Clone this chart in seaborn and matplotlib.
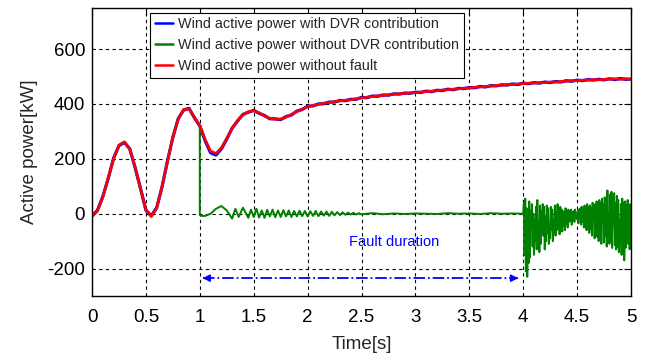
import numpy as np
import pandas as pd
import matplotlib
matplotlib.use("Agg")
import matplotlib.pyplot as plt
import seaborn as sns

# ---------------- data ----------------
t_main = np.round(np.arange(0, 5.0001, 0.05), 2)
red_vals = [-10, 10, 60, 130, 200, 250, 262, 235, 170, 90,
            15, -10, 20, 100, 190, 280, 345, 380, 382, 352,
            322, 270, 228, 220, 240, 275, 310, 340, 360, 372,
            375, 368, 356, 348, 344, 345, 352, 362, 372, 382,
            390, 395, 398, 403, 405, 409, 411, 414, 415, 419,
            422, 425, 427, 430, 431, 434, 435, 438, 438, 441,
            441, 444, 445, 447, 448, 451, 452, 454, 455, 458,
            458, 461, 462, 464, 465, 468, 468, 471, 471, 473,
            474, 476, 476, 478, 478, 480, 480, 482, 483, 485,
            485, 487, 487, 489, 488, 490, 490, 492, 490, 492, 490]
blue_vals = [-8, 12, 62, 128, 202, 248, 260, 237, 168, 92,
             13, -8, 22, 98, 192, 278, 347, 378, 384, 350,
             320, 266, 222, 214, 236, 272, 312, 338, 362, 370,
             377, 366, 358, 346, 346, 343, 354, 360, 374, 380,
             392, 393, 400, 401, 407, 407, 413, 412, 417, 417,
             424, 423, 429, 428, 433, 432, 437, 436, 440, 439,
             443, 442, 447, 445, 450, 449, 454, 452, 457, 456,
             460, 459, 464, 462, 467, 466, 470, 469, 473, 471,
             476, 474, 478, 476, 480, 478, 482, 480, 485, 483,
             487, 485, 489, 487, 490, 488, 492, 489, 493, 490, 491]

green_t_fault = [1.0, 1.0, 1.02, 1.05, 1.10, 1.15, 1.20, 1.25, 1.30, 1.33, 1.36, 1.40, 1.43,
                 1.45, 1.475, 1.50, 1.525, 1.55, 1.575, 1.60, 1.625, 1.65, 1.675,
                 1.70, 1.725, 1.75, 1.775, 1.80, 1.825, 1.85, 1.875, 1.90, 1.925,
                 1.95, 1.975, 2.00, 2.025, 2.05, 2.075, 2.10, 2.125, 2.15, 2.175,
                 2.20, 2.225, 2.25, 2.275, 2.30, 2.325, 2.35, 2.375, 2.40, 2.425,
                 2.45, 2.475, 2.50, 2.60, 2.70, 2.80, 2.90, 3.00, 3.20, 3.30,
                 3.40, 3.50, 3.60, 3.70, 3.80, 3.90, 3.995]
green_v_fault = [322, -5, -8, -8, 0, 18, 28, 12, -18, 18, -12, 22, 0,
                 -15, 15, -12, 18, -14, 12, -15, 14, -10, 15,
                 -13, 12, -12, 13, -10, 12, -12, 10, -10, 11,
                 -9, 10, -10, 9, -8, 10, -9, 8, -7, 8,
                 -8, 7, -6, 6, -5, 5, -4, 4, -3, 3,
                 -3, 2, -2, 2, -2, 1, -1, 1, -1, 2,
                 0, 1, -1, 2, 0, 1, 0]
green_t_clear = np.linspace(4.0, 5.0, 161)
green_v_clear = [0, 40, -150, 55, -210, 20, -230, -60, -180, 45,
                 -160, 10, -40, 35, -120, 0, -150, -20, -100, 25,
                 -130, 50, -90, -30, -140, 30, -110, 10, -60, 35,
                 -80, 25, -130, -10, -100, 30, -70, 20, -110, -40,
                 -90, 25, -60, 15, -100, -20, -70, 30, -80, 5,
                 -60, 35, -50, -5, -75, 25, -40, 15, -65, -10,
                 -45, 10, -60, 20, -35, 5, -50, 15, -30, 10,
                 -25, 15, -40, 5, -20, 10, -30, 15, -15, 0,
                 -20, 10, -35, 15, -10, 20, -40, 25, -30, 15,
                 -50, 30, -45, 0, -60, 35, -40, 25, -70, 30,
                 -55, 20, -80, 40, -20, 25, -90, 35, -70, 45,
                 -85, -10, -100, 50, -75, 40, -110, 55, -30, 35,
                 -105, 60, -80, 45, -120, 85, -95, 0, -110, 70,
                 -100, 80, -125, 55, -40, 75, -115, 40, -130, 65,
                 -120, 50, -140, -20, -110, 35, -150, 55, -135, 40,
                 -170, 45, -125, 30, -60, 50, -110, 25, -130, 35, -90]

labels = ["Wind active power with DVR contribution",
          "Wind active power without DVR contribution",
          "Wind active power without fault"]
colors = ["#0000ff", "#008000", "#ff0000"]
fault_start, fault_end = 1.0, 4.0
arrow_y = -235
fault_text = "Fault duration"
x_ticks = [0, 0.5, 1, 1.5, 2, 2.5, 3, 3.5, 4, 4.5, 5]
x_ticklabels = ["0", "0.5", "1", "1.5", "2", "2.5", "3", "3.5", "4", "4.5", "5"]
y_ticks = [-200, 0, 200, 400, 600]
y_ticklabels = ["-200", "0", "200", "400", "600"]

# ---------------- build frames ----------------
pre = t_main <= 1.0
green_t = list(t_main[pre][:-1]) + green_t_fault + list(green_t_clear)
green_v = list(np.array(red_vals)[pre][:-1]) + green_v_fault + list(green_v_clear)

df_blue = pd.DataFrame({"t": t_main, "p": blue_vals})
df_red = pd.DataFrame({"t": t_main, "p": red_vals})
df_green = pd.DataFrame({"t": green_t, "p": green_v})

# ---------------- plot ----------------
sns.set_style("white")
plt.rcParams["font.family"] = ["Liberation Sans", "DejaVu Sans"]

fig = plt.figure(figsize=(6.45, 3.6), dpi=100)
ax = fig.add_axes([92 / 645, 1 - 296 / 360, (631 - 92) / 645, (296 - 8) / 360])

sns.lineplot(data=df_blue, x="t", y="p", ax=ax, color=colors[0], lw=2.3,
             estimator=None, sort=False, label=labels[0])
sns.lineplot(data=df_green, x="t", y="p", ax=ax, color=colors[1], lw=1.4,
             estimator=None, sort=False, label=labels[1])
sns.lineplot(data=df_red, x="t", y="p", ax=ax, color=colors[2], lw=1.9,
             estimator=None, sort=False, label=labels[2])

ax.set_xlim(0, 5)
ax.set_ylim(-300, 750)
ax.set_xticks(x_ticks)
ax.set_xticklabels(x_ticklabels)
ax.set_yticks(y_ticks)
ax.set_yticklabels(y_ticklabels)
ax.tick_params(axis="both", direction="in", length=5, width=0.8, labelsize=13.5,
               top=True, right=True, colors="black")
ax.tick_params(axis="x", pad=9)
ax.tick_params(axis="y", pad=5)
ax.grid(True, color="black", linestyle=(0, (3, 3)), linewidth=0.8)
for s in ax.spines.values():
    s.set_color("black")
    s.set_linewidth(1.0)

ax.set_xlabel("Time[s]", fontsize=13.5)
ax.set_ylabel("Active power[kW]", fontsize=13.5)
ax.xaxis.set_label_coords(0.5, -0.14)
ax.yaxis.set_label_coords(-0.1, 0.5)

# fault duration arrow
ax.plot([fault_start + 0.03, fault_end - 0.05], [arrow_y, arrow_y], color="blue",
        linestyle="-.", linewidth=1.3)
ax.annotate("", xy=(fault_start, arrow_y), xytext=(fault_start + 0.12, arrow_y),
            arrowprops=dict(arrowstyle="-|>", color="blue", lw=1.3, mutation_scale=10))
ax.annotate("", xy=(fault_end - 0.02, arrow_y), xytext=(fault_end - 0.14, arrow_y),
            arrowprops=dict(arrowstyle="-|>", color="blue", lw=1.3, mutation_scale=10))
ax.text((fault_start + fault_end) / 2 + 0.30, -103, fault_text, color="blue",
        fontsize=10.5, ha="center", va="center")

leg = ax.legend(loc="upper left", bbox_to_anchor=(0.108, 0.984), fontsize=10.4,
                frameon=True, fancybox=False, edgecolor="black", framealpha=1,
                handlelength=1.3, handletextpad=0.35, labelspacing=0.5,
                borderpad=0.3, borderaxespad=0)
leg.get_frame().set_linewidth(0.8)
for h in leg.get_lines():
    h.set_linewidth(1.8)

fig.savefig("out.png", dpi=100)
